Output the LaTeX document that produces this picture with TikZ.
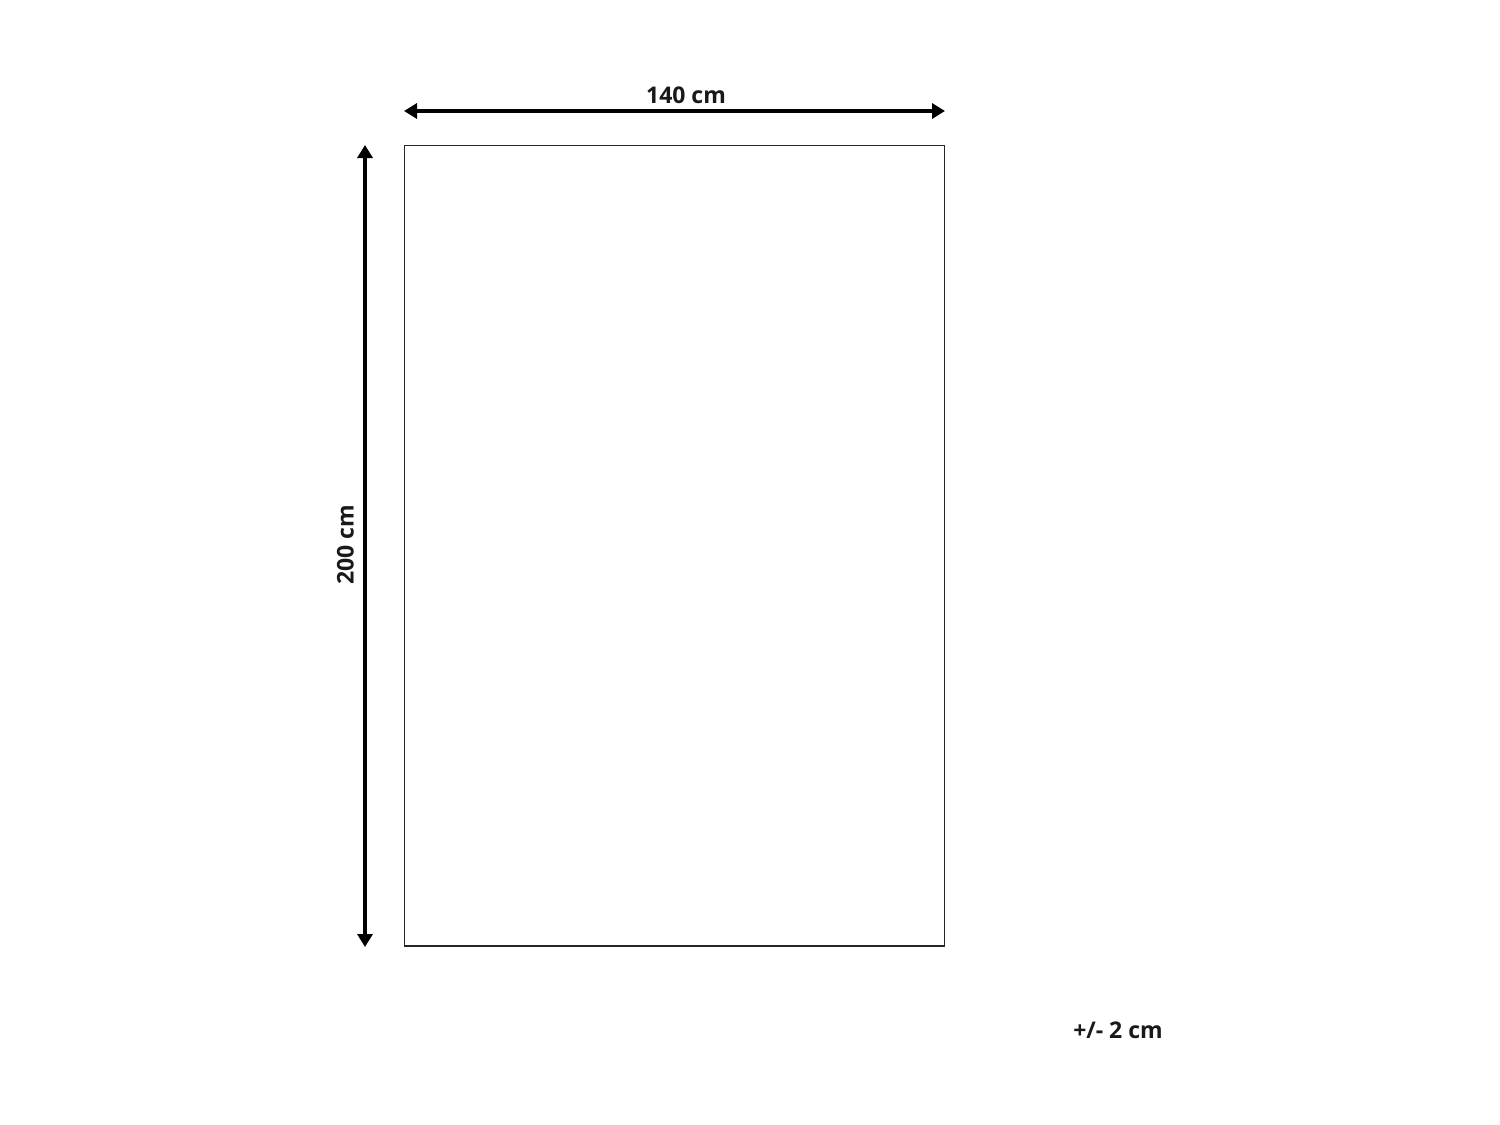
\documentclass[tikz,border=0pt]{standalone}
\usepackage{fontspec}
\setmainfont{Open Sans}
\usetikzlibrary{arrows.meta}
\begin{document}
\begin{tikzpicture}[x=1pt,y=-1pt,
  dimline/.style={line width=4pt,{Triangle[length=13pt,width=15pt]}-{Triangle[length=13pt,width=15pt]}},
  dimlabel/.style={font=\fontsize{23}{26}\selectfont\bfseries,text=black!90,inner sep=0pt},
  outline/.style={draw=black!85,line width=1.3pt}]
\useasboundingbox (0,0) rectangle (1500,1125);
\coordinate (tl) at (404.5,145.5);
\coordinate (br) at (944.5,946);
\draw[outline] (tl) rectangle (br);
\coordinate (hl) at (404,111);
\coordinate (hr) at (945,111);
\draw[dimline] (hl) -- (hr);
\coordinate (vt) at (365,145);
\coordinate (vb) at (365,947);
\draw[dimline] (vt) -- (vb);
\node[dimlabel,anchor=base] (w) at (686,103) {140 cm};
\node[dimlabel,anchor=base,rotate=90] (h) at (353.5,545) {200 cm};
\node[dimlabel,anchor=base] (tol) at (1118,1038) {+/- 2 cm};
\end{tikzpicture}
\end{document}
